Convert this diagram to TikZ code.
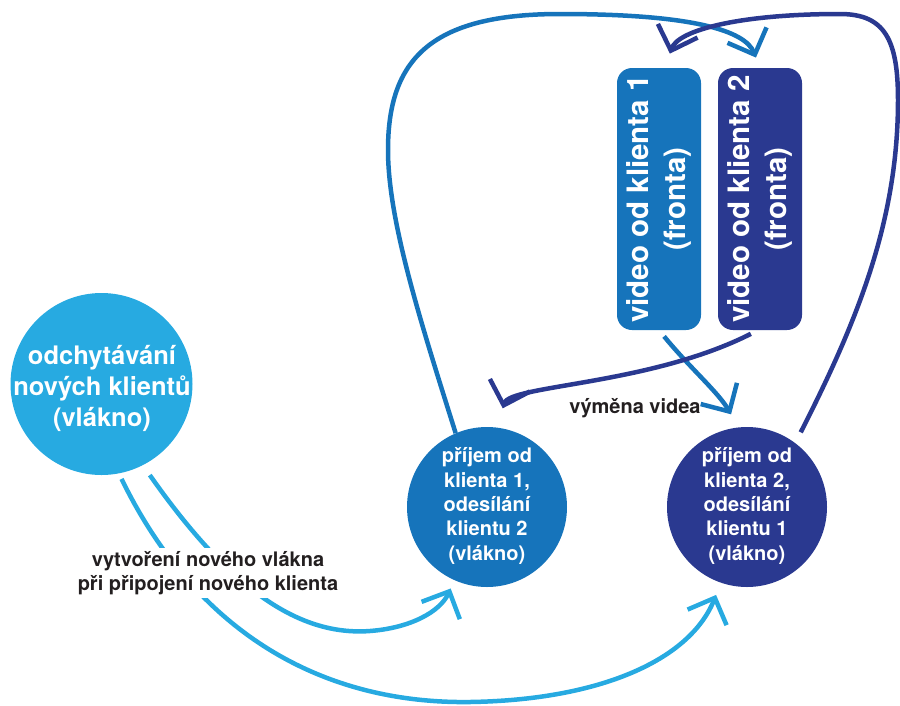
\documentclass[tikz,border=0pt]{standalone}
\usepackage{fontspec}
\setmainfont{TeX Gyre Heros}
\usetikzlibrary{arrows.meta,calc}
\definecolor{lblue}{HTML}{27AAE1}
\definecolor{mblue}{HTML}{1674BB}
\definecolor{navy}{HTML}{2A3990}
\definecolor{ink}{HTML}{231F20}
\begin{document}
\begin{tikzpicture}[x=1pt,y=-1pt,
  circ/.style={circle,inner sep=0pt,minimum size=#1,draw=none},
  ctext/.style={text=white,font=\bfseries,align=center,inner sep=0pt},
  qbox/.style={rectangle,rounded corners=15pt,minimum width=84pt,minimum height=262pt,inner sep=0pt},
  conn/.style={line width=4.5pt,-{Straight Barb[length=21pt,width=42pt]}},
  lbl/.style={text=ink,font=\bfseries\fontsize{20}{24}\selectfont,align=center}
]
\useasboundingbox (0,0) rectangle (900,705);

% nodes
\node[circ=182pt,fill=lblue] (lc) at (101.5,384) {};
\node[ctext,font=\bfseries\fontsize{25.5}{31}\selectfont] (lct) at (102,388) {odchytávání\\nových klientů\\(vlákno)};

\node[circ=160pt,fill=mblue] (mc) at (487,507) {};
\node[ctext,font=\bfseries\fontsize{20}{24.3}\selectfont] (mct) at (487,506) {příjem od\\klienta 1,\\odesílání\\klientu 2\\(vlákno)};

\node[circ=160pt,fill=navy] (rc) at (747,507) {};
\node[ctext,font=\bfseries\fontsize{20}{24.3}\selectfont] (rct) at (747,506) {příjem od\\klienta 2,\\odesílání\\klientu 1\\(vlákno)};

\node[qbox,fill=mblue] (b1) at (659,199) {};
\node[ctext,rotate=90,font=\bfseries\fontsize{29.5}{37}\selectfont] (b1t) at (b1) {video od klienta 1\\(fronta)};

\node[qbox,fill=navy] (b2) at (760,199) {};
\node[ctext,rotate=90,font=\bfseries\fontsize{29.5}{37}\selectfont] (b2t) at (b2) {video od klienta 2\\(fronta)};

% connectors
\draw[conn,draw=mblue,shorten >=11pt] (mc.113) .. controls (420,320) and (388,220) .. (388,150)
   .. controls (388,60) and (430,14) .. (560,14)
   .. controls (690,14) and (745,30) .. (b2.north);

\draw[conn,draw=navy,shorten <=12pt,shorten >=15pt] (rc.53) .. controls (858,320) and (898,220) .. (898,100)
   .. controls (898,40) and (885,14) .. (840,14)
   .. controls (740,14) and (678,30) .. ($(b1.north)+(6,0)$);

\draw[conn,draw=mblue,shorten <=8pt,shorten >=15pt] (b1.south) .. controls (690,368) and (718,392) .. (rc.96);

\draw[conn,draw=navy,shorten <=8pt,shorten >=20pt] ($(b2.south)+(-2,0)$) .. controls (650,385) and (510,385) .. (mc.83);

\draw[conn,draw=lblue,shorten <=12pt,shorten >=9pt] (lc.-63) .. controls (220,575) and (290,637) .. (370,631)
   .. controls (410,628) and (440,612) .. (mc.-114);

\draw[conn,draw=lblue,shorten <=6pt,shorten >=13pt] (lc.-79) .. controls (200,640) and (330,704) .. (470,702)
   .. controls (600,700) and (690,660) .. (rc.-109);

% labels
\node[lbl,fill=white,inner xsep=2pt,inner ysep=3pt] (l1) at (208,573) {vytvoření nového vlákna\\při připojení nového klienta};
\node[lbl,anchor=base] (l2) at (635,413) {výměna videa};
\end{tikzpicture}
\end{document}
